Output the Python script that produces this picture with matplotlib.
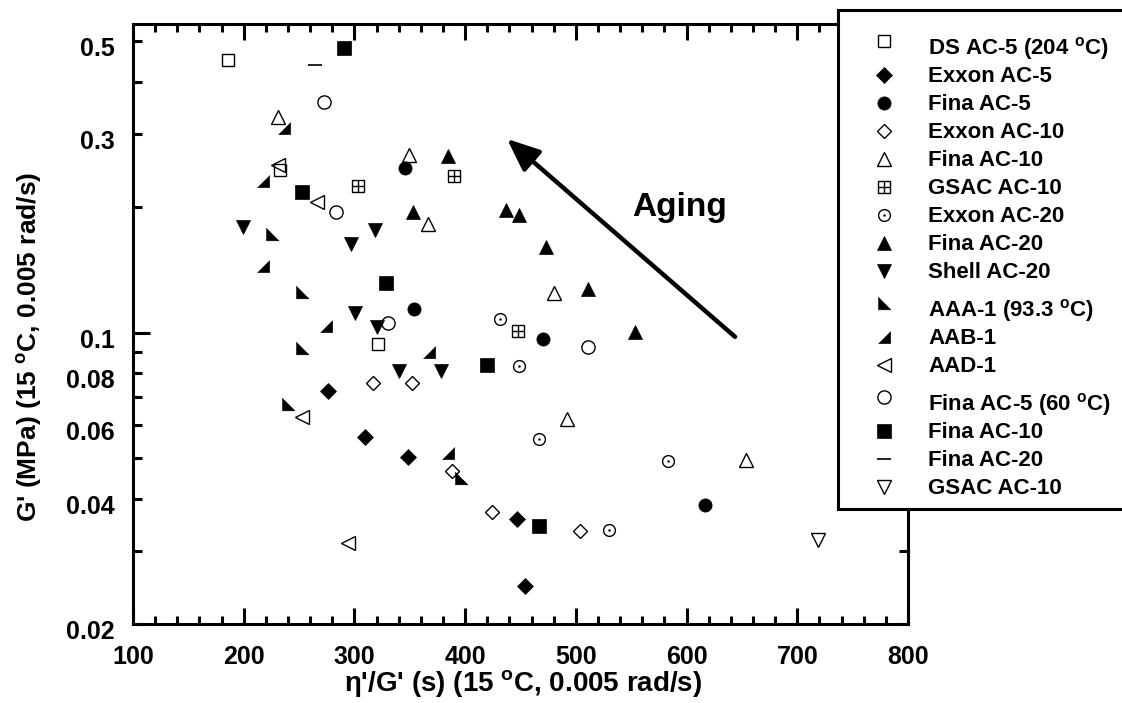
import matplotlib
matplotlib.use("Agg")
import matplotlib.pyplot as plt
import matplotlib.transforms as mtransforms
from matplotlib.ticker import FixedLocator, FuncFormatter

plt.rcParams['font.family'] = ['Liberation Sans', 'DejaVu Sans']
plt.rcParams['font.weight'] = 'bold'
plt.rcParams['mathtext.default'] = 'regular'

# ---------------- data (x = eta'/G' in s, y = G' in MPa) ----------------
ds_ac5_x = [186.1, 232.8, 321.6]
ds_ac5_y = [0.451, 0.2457, 0.0939]

exxon_ac5_x = [276.4, 309.6, 348.7, 446.6, 453.8]
exxon_ac5_y = [0.0725, 0.0563, 0.0502, 0.0357, 0.0247]

fina_ac5_x = [346.0, 354.1, 470.6, 617.0]
fina_ac5_y = [0.248, 0.1138, 0.0966, 0.0386]

exxon_ac10_x = [317.1, 352.3, 387.9, 424.6, 504.1]
exxon_ac10_y = [0.0756, 0.0758, 0.0466, 0.0372, 0.0335]

fina_ac10_x = [230.7, 349.6, 366.2, 480.6, 491.8, 653.7]
fina_ac10_y = [0.3287, 0.2669, 0.1823, 0.1247, 0.0621, 0.0494]

gsac_ac10_x = [303.5, 390.0, 447.5]
gsac_ac10_y = [0.2249, 0.2377, 0.1009]

exxon_ac20_x = [431.5, 449.0, 466.5, 530.0, 583.6]
exxon_ac20_y = [0.1079, 0.0833, 0.0556, 0.0336, 0.0493]

fina_ac20_x = [384.8, 353.2, 436.7, 449.0, 472.8, 511.3, 553.5]
fina_ac20_y = [0.2655, 0.1945, 0.1974, 0.1910, 0.1603, 0.1271, 0.1004]

shell_ac20_x = [199.1, 318.6, 296.7, 300.5, 320.1, 340.3, 378.2]
shell_ac20_y = [0.1790, 0.1763, 0.1630, 0.1113, 0.1034, 0.0809, 0.0811]

aaa1_x = [225.3, 252.9, 252.4, 240.3, 396.0]
aaa1_y = [0.1722, 0.1250, 0.0918, 0.0673, 0.0447]

aab1_x = [236.7, 217.2, 217.7, 273.9, 367.7, 384.3]
aab1_y = [0.3093, 0.2312, 0.1445, 0.1038, 0.0900, 0.0514]

aad1_x = [230.7, 266.5, 252.9, 294.5]
aad1_y = [0.2526, 0.2055, 0.0629, 0.0313]

fina_ac5_60_x = [272.8, 283.4, 330.1, 511.0]
fina_ac5_60_y = [0.3583, 0.1949, 0.1053, 0.0923]

fina_ac10_60_x = [290.9, 252.9, 328.5, 419.5, 466.8]
fina_ac10_60_y = [0.4811, 0.2173, 0.1318, 0.0837, 0.0344]

fina_ac20_60_x = [264.4]
fina_ac20_60_y = [0.4387]

gsac_ac10_60_x = [718.8]
gsac_ac10_60_y = [0.0318]

x_ticks = [100, 200, 300, 400, 500, 600, 700, 800]
y_labeled = [0.02, 0.04, 0.06, 0.08, 0.1, 0.3, 0.5]
y_minor = [0.02, 0.03, 0.04, 0.05, 0.06, 0.07, 0.08, 0.09, 0.2, 0.3, 0.4, 0.5]

SUP = r"$^{\mathregular{o}}$"
labels = ["DS AC-5 (204 " + SUP + "C)", "Exxon AC-5", "Fina AC-5", "Exxon AC-10",
          "Fina AC-10", "GSAC AC-10", "Exxon AC-20", "Fina AC-20", "Shell AC-20",
          "AAA-1 (93.3 " + SUP + "C)", "AAB-1", "AAD-1",
          "Fina AC-5 (60 " + SUP + "C)", "Fina AC-10", "Fina AC-20", "GSAC AC-10"]
series = [(ds_ac5_x, ds_ac5_y), (exxon_ac5_x, exxon_ac5_y), (fina_ac5_x, fina_ac5_y),
          (exxon_ac10_x, exxon_ac10_y), (fina_ac10_x, fina_ac10_y), (gsac_ac10_x, gsac_ac10_y),
          (exxon_ac20_x, exxon_ac20_y), (fina_ac20_x, fina_ac20_y), (shell_ac20_x, shell_ac20_y),
          (aaa1_x, aaa1_y), (aab1_x, aab1_y), (aad1_x, aad1_y),
          (fina_ac5_60_x, fina_ac5_60_y), (fina_ac10_60_x, fina_ac10_60_y),
          (fina_ac20_60_x, fina_ac20_60_y), (gsac_ac10_60_x, gsac_ac10_60_y)]

# ---------------- marker styles ----------------
LL_TRI = [(-1, -1), (1, -1), (-1, 1)]   # lower-left right triangle
LR_TRI = [(-1, -1), (1, -1), (1, 1)]    # lower-right right triangle
OPEN = dict(mfc='none', mec='black', mew=1.0)
FILL = dict(mfc='black', mec='black', mew=0.5)
styles = [
    [dict(marker='s', ms=8, **OPEN)],
    [dict(marker='D', ms=7.8, **FILL)],
    [dict(marker='o', ms=9.5, **FILL)],
    [dict(marker='D', ms=7.5, **OPEN)],
    [dict(marker='^', ms=9.5, **OPEN)],
    [dict(marker='s', ms=8.5, **OPEN), dict(marker='+', ms=8.5, mec='black', mew=1.0)],
    [dict(marker='o', ms=8.5, **OPEN), dict(marker='o', ms=1.2, **FILL)],
    [dict(marker='^', ms=10, **FILL)],
    [dict(marker='v', ms=10, **FILL)],
    [dict(marker=LL_TRI, ms=9, **FILL)],
    [dict(marker=LR_TRI, ms=9, **FILL)],
    [dict(marker='<', ms=9.5, **OPEN)],
    [dict(marker='o', ms=9.5, **OPEN)],
    [dict(marker='s', ms=9.5, **FILL)],
    [dict(marker='_', ms=10, mec='black', mew=1.2)],
    [dict(marker='v', ms=9.5, **OPEN)],
]

W, H = 1122, 703
fig = plt.figure(figsize=(W / 100, H / 100), dpi=100)
ax = fig.add_axes([133 / W, 1 - 624 / H, 775 / W, 600 / H])
ax.set_yscale('log')
ax.set_xlim(100, 800)
ax.set_ylim(0.02, 0.55)

for (xs, ys), st in zip(series, styles):
    for s in st:
        ax.plot(xs, ys, ls='none', zorder=3, **s)

# ticks
ax.xaxis.set_major_locator(FixedLocator(x_ticks))
ax.xaxis.set_minor_locator(FixedLocator(list(range(100, 801, 20))))
ax.yaxis.set_major_locator(FixedLocator([0.1]))
ax.yaxis.set_minor_locator(FixedLocator(y_minor))
fmt = FuncFormatter(lambda v, p: ('%g' % v) if any(abs(v - t) < 1e-9 for t in y_labeled) else '')
ax.yaxis.set_major_formatter(fmt)
ax.yaxis.set_minor_formatter(fmt)
ax.xaxis.set_major_formatter(FuncFormatter(lambda v, p: '%d' % v))
ax.tick_params(axis='both', which='both', direction='in', top=True, right=True,
               width=2.2, labelsize=18)
ax.tick_params(axis='x', which='major', length=11.5, pad=15)
ax.tick_params(axis='x', which='minor', length=6)
ax.tick_params(axis='y', which='major', length=12, pad=13)
ax.tick_params(axis='y', which='minor', length=6.5, pad=13)
for lab in ax.get_yticklabels(which='both'):
    lab.set_fontweight('bold')
for lab in ax.get_xticklabels():
    lab.set_fontweight('bold')
off = mtransforms.ScaledTranslation(0, -4 / 72, fig.dpi_scale_trans)
for t in ax.yaxis.get_major_ticks() + ax.yaxis.get_minor_ticks():
    t.label1.set_transform(t.label1.get_transform() + off)
for sp in ax.spines.values():
    sp.set_linewidth(2.2)

ax.set_xlabel("\u03b7'/G' (s) (15 " + SUP + "C, 0.005 rad/s)", fontsize=20, fontweight='bold')
ax.xaxis.set_label_coords(0.504, -0.074)
ax.set_ylabel("G' (MPa) (15 " + SUP + "C, 0.005 rad/s)", fontsize=19, fontweight='bold')
ax.yaxis.set_label_coords(-0.115, 0.462)

# aging arrow + label
ax.annotate('', xy=(437.8, 0.2915), xytext=(643.8, 0.0977),
            arrowprops=dict(arrowstyle='-|>,head_length=0.9,head_width=0.38',
                            lw=3.2, color='black', mutation_scale=22, shrinkA=0, shrinkB=0))
ax.text(551, 0.19, 'Aging', fontsize=24, fontweight='bold', va='baseline', ha='left')

# ---------------- legend (manual box) ----------------
L, T, B, R = 838, 10, 509, 1135
lax = fig.add_axes([L / W, 1 - B / H, (R - L) / W, (B - T) / H], zorder=5)
lax.set_xlim(0, R - L)
lax.set_ylim(B - T, 0)
lax.set_xticks([])
lax.set_yticks([])
lax.set_facecolor('white')
for sp in lax.spines.values():
    sp.set_linewidth(2.2)

row_y = []
y = 47
for i in range(len(labels)):
    if i in (9, 12):
        y += 38
    elif i > 0:
        y += 28
    row_y.append(y - T)

for lab, st, ry in zip(labels, styles, row_y):
    my = ry - 6 if '$' in lab else ry
    for s in st:
        lax.plot([884 - L], [my], ls='none', clip_on=False, **s)
    lax.text(928 - L, ry + 7.5, lab, fontsize=16,
             fontweight='bold', va='baseline', ha='left')

fig.savefig('out.png', dpi=100)
